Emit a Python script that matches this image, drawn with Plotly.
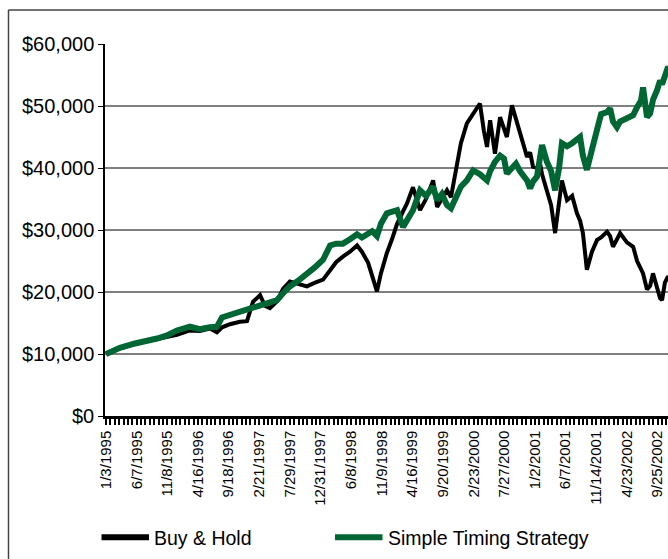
import plotly.graph_objects as go

# ---- data (trading-day index from 1/3/1995, growth of $10,000) ----
day = [0, 49, 102, 130, 180, 215, 250, 296, 331, 366, 391, 409, 437, 472, 497, 518, 543, 560,
       578, 603, 624, 648, 677, 708, 737, 765, 790, 811, 835, 860, 885, 902, 924, 938, 955,
       969, 990, 1008, 1026, 1047, 1061, 1082, 1107, 1128, 1153, 1167, 1184, 1202, 1216,
       1237, 1251, 1272, 1294, 1318, 1332, 1343, 1354, 1371, 1389, 1403, 1413, 1431, 1445,
       1459, 1484, 1495, 1505, 1519, 1530, 1537, 1554, 1569, 1583, 1597, 1607, 1625, 1643,
       1660, 1671, 1681, 1695, 1713, 1731, 1745, 1766, 1777, 1787, 1801, 1812, 1836, 1858,
       1872, 1886, 1893, 1907, 1918, 1928, 1942, 1953, 1960, 1970, 1981, 1995, 2013]

buy_hold = [10000, 10900, 11600, 12000, 12400, 12800, 13100, 13800, 13700, 14100, 13500, 14300,
            14800, 15200, 15300, 18400, 19500, 17800, 17400, 18500, 20500, 21700, 21300, 20900,
            21500, 22000, 23500, 24800, 25700, 26500, 27500, 26500, 24700, 22500, 20100,
            23000, 26300, 28500, 31000, 33000, 34300, 36900, 33200, 35000, 38000, 33700, 35000,
            36400, 35300, 40700, 44000, 47200, 48800, 50400, 46000, 43400, 47700, 42300, 48200,
            46500, 45000, 50100, 48000, 46100, 41800, 42500, 40200, 40000, 40700, 39000, 36400,
            34000, 29500, 34000, 38000, 34800, 35500, 32700, 31500, 29500, 23600, 26500, 28400,
            28800, 29700, 29000, 27300, 28500, 29500, 28000, 27300, 25000, 23500, 23000, 20400,
            21000, 23000, 21000, 19000, 18700, 21500, 22500, 21500, 21000]

timing = [10000, 11000, 11700, 11900, 12500, 13000, 13800, 14400, 14000, 14300, 14400, 15900,
          16300, 17000, 17300, 17600, 17900, 18100, 18300, 18700, 19800, 20900, 21800, 22800,
          24000, 25200, 27500, 27800, 27800, 28500, 29300, 28800, 29300, 29800, 29000,
          31000, 32700, 33000, 33200, 30500, 31500, 33200, 36400, 35500, 37000, 34800, 35800,
          34000, 33500, 35500, 37000, 38000, 39600, 39000, 38500, 38000, 39500, 41000, 42000,
          41500, 39100, 40000, 40700, 39500, 38000, 36700, 37800, 38600, 42000, 43700, 41000,
          39500, 36400, 40000, 44000, 43500, 44000, 44500, 45000, 42000, 39700, 43000, 46600,
          48700, 49000, 49600, 47500, 46600, 47500, 48000, 48500, 49800, 50900, 53000, 48200,
          48800, 51000, 52500, 54100, 53500, 55000, 56300, 55500, 55000]

x_labels = ["1/3/1995", "6/7/1995", "11/8/1995", "4/16/1996", "9/18/1996", "2/21/1997",
            "7/29/1997", "12/31/1997", "6/8/1998", "11/9/1998", "4/16/1999", "9/20/1999",
            "2/23/2000", "7/27/2000", "1/2/2001", "6/7/2001", "11/14/2001", "4/23/2002",
            "9/25/2002"]
LABEL_STEP = 108          # trading days between labels
TICKS_PER_LABEL = 7

y_vals = [0, 10000, 20000, 30000, 40000, 50000, 60000]
y_text = ["$0", "$10,000", "$20,000", "$30,000", "$40,000", "$50,000", "$60,000"]

series_names = ["Buy & Hold", "Simple Timing Strategy"]
colors = ["#000000", "#006633"]

# ---- layout geometry (page pixels) ----
W, H = 668, 559
PLOT_L, PLOT_R, PLOT_T, PLOT_B = 105, 668, 43.5, 416.5
ML, MT = PLOT_L, PLOT_T
MR, MB = W - PLOT_R, H - PLOT_B
PW, PH = PLOT_R - PLOT_L, PLOT_B - PLOT_T
PX_PER_DAY = 30.64 / LABEL_STEP
FONT = "Liberation Sans, Arial, sans-serif"


def px(xp):
    return (xp - PLOT_L) / PW


def py(yp):
    return (PLOT_B - yp) / PH


fig = go.Figure()
fig.add_trace(go.Scatter(x=day, y=buy_hold, mode="lines", name=series_names[0],
                         line=dict(color=colors[0], width=4), showlegend=False))
fig.add_trace(go.Scatter(x=day, y=timing, mode="lines", name=series_names[1],
                         line=dict(color=colors[1], width=6), showlegend=False))

n_ticks = int((PW / PX_PER_DAY) / (LABEL_STEP / TICKS_PER_LABEL)) + 2
tickvals, ticktext = [], []
for i in range(n_ticks):
    tickvals.append(i * LABEL_STEP / TICKS_PER_LABEL)
    if i % TICKS_PER_LABEL == 0 and i // TICKS_PER_LABEL < len(x_labels):
        ticktext.append(x_labels[i // TICKS_PER_LABEL])
    else:
        ticktext.append("")

x0 = -1 / PX_PER_DAY
x1 = x0 + PW / PX_PER_DAY

shapes = []
for v in y_vals[1:-1]:
    shapes.append(dict(type="line", xref="paper", yref="y", x0=0, x1=1, y0=v, y1=v,
                       line=dict(color="black", width=1), layer="below"))
# outer chart border (left and top visible)
shapes.append(dict(type="line", xref="paper", yref="paper", x0=px(8.5), x1=px(8.5),
                   y0=py(9.5), y1=py(575), line=dict(color="#444444", width=1.5)))
shapes.append(dict(type="line", xref="paper", yref="paper", x0=px(8.5), x1=px(690),
                   y0=py(9.5), y1=py(9.5), line=dict(color="#444444", width=1.5)))
# legend samples
leg = [(101.5, 149, 152), (335, 382.5, 385.5)]
annotations = []
for (a, b, t), name, c in zip(leg, series_names, colors):
    shapes.append(dict(type="line", xref="paper", yref="paper", x0=px(a), x1=px(b),
                       y0=py(538), y1=py(538), line=dict(color=c, width=6)))
    annotations.append(dict(xref="paper", yref="paper", x=px(t), y=py(538.5), text=name,
                            showarrow=False, xanchor="left", yanchor="middle",
                            font=dict(family=FONT, size=19.5, color="black")))

fig.update_layout(
    width=W, height=H,
    margin=dict(l=ML, r=MR, t=MT, b=MB, autoexpand=False),
    paper_bgcolor="white", plot_bgcolor="white",
    shapes=shapes, annotations=annotations,
    showlegend=False,
    xaxis=dict(range=[x0, x1], tickmode="array", tickvals=tickvals, ticktext=ticktext,
               tickangle=-90, ticks="outside", ticklen=6, tickwidth=2, tickcolor="black",
               showline=True, linecolor="black", linewidth=2.5, showgrid=False,
               zeroline=False, tickfont=dict(family=FONT, size=15, color="black")),
    yaxis=dict(range=[0, 60000], tickmode="array", tickvals=y_vals, ticktext=y_text,
               ticks="outside", ticklen=5, tickwidth=1, tickcolor="black",
               showline=True, linecolor="black", linewidth=1.5, showgrid=False,
               zeroline=False, tickfont=dict(family=FONT, size=20, color="black")),
)

fig.write_html(
    "out.html",
    config={"displayModeBar": False},
    post_script="document.body.style.margin='0';document.body.style.overflow='hidden';",
)
